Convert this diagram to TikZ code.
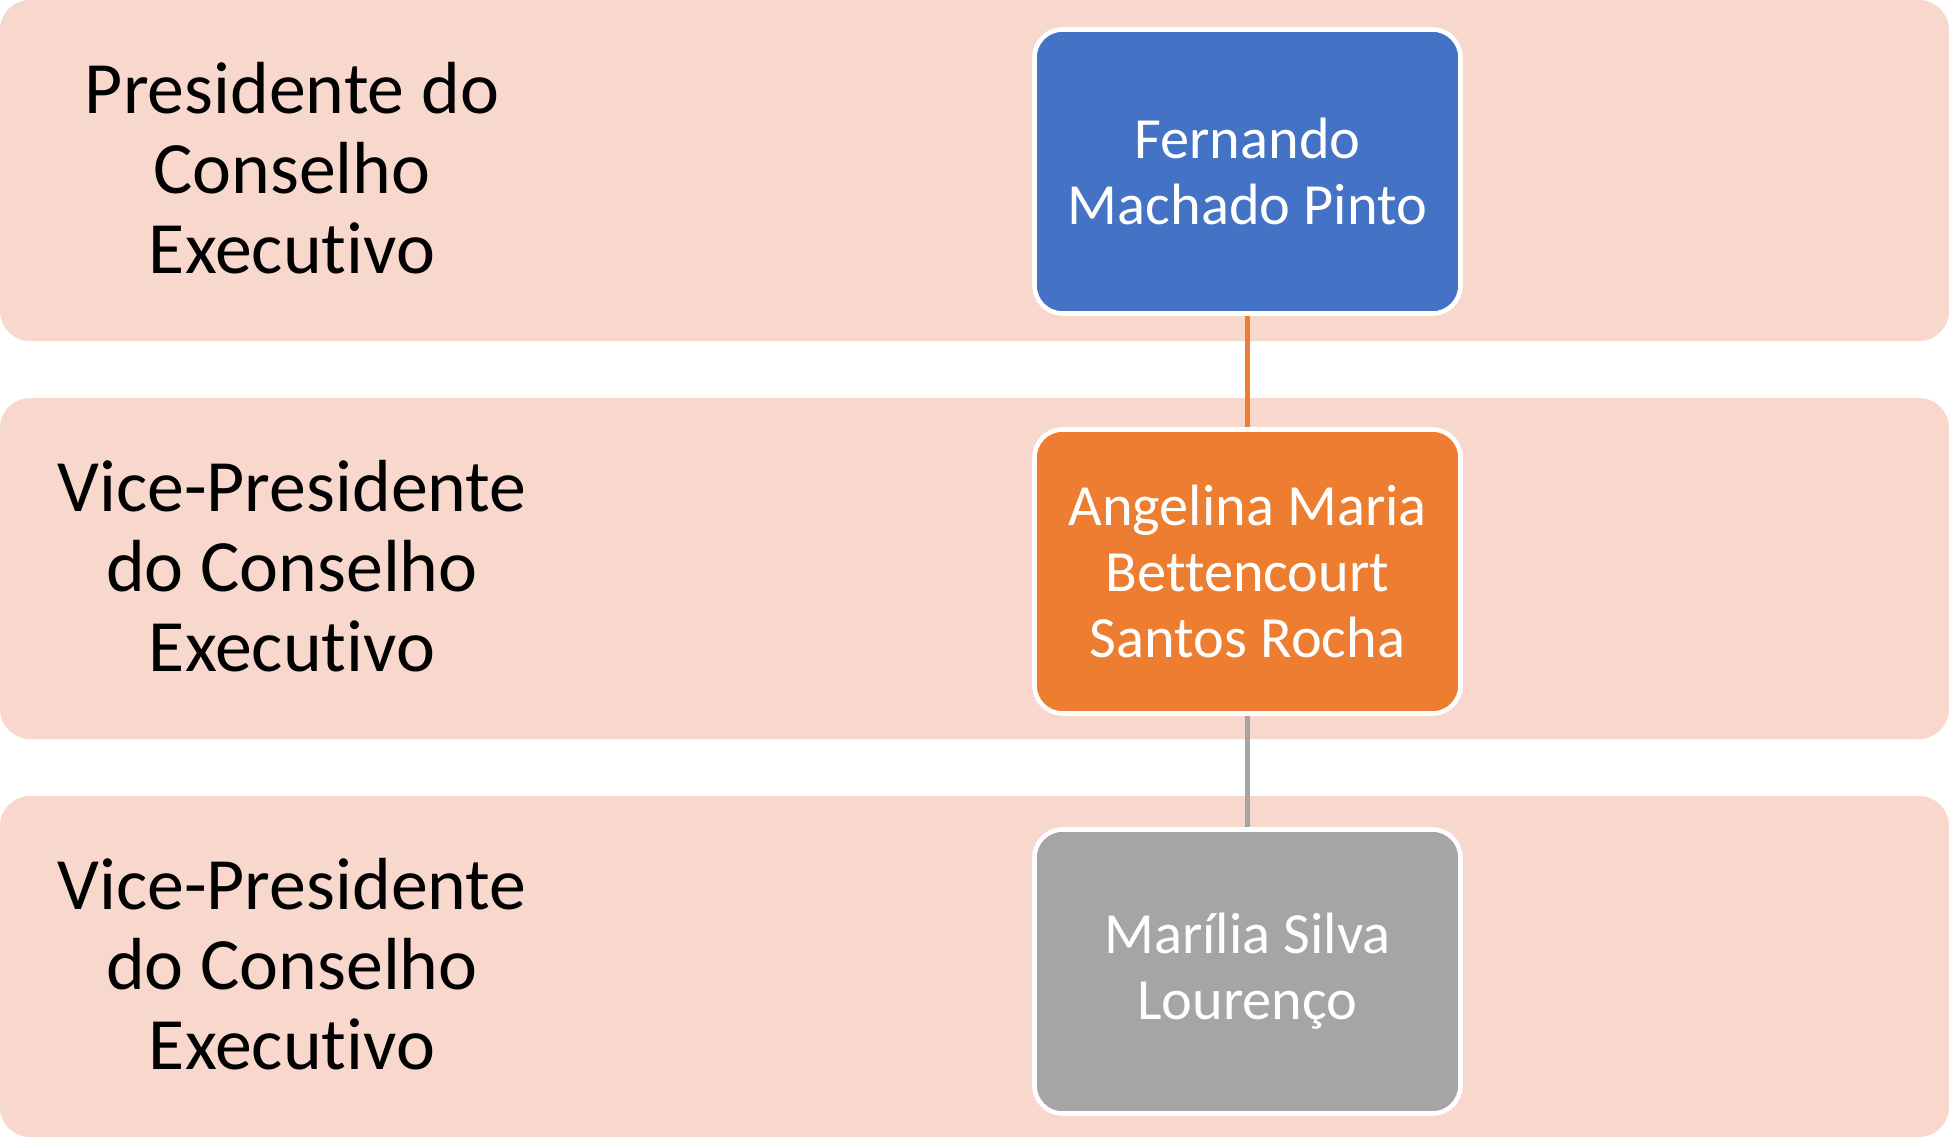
\documentclass[tikz,border=0pt]{standalone}
\usepackage{fontspec}
\setmainfont{Carlito}[Ligatures=NoCommon]
\usetikzlibrary{positioning}
\definecolor{bandfill}{HTML}{F8D7CD}
\definecolor{presblue}{HTML}{4472C4}
\definecolor{vporange}{HTML}{ED7D31}
\definecolor{vpgray}{HTML}{A5A5A5}

\begin{document}
\begin{tikzpicture}[node distance=4cm,on grid,
        band/.style={fill=bandfill,rounded corners=0.3cm,minimum width=19.49cm,minimum height=3.41cm,inner sep=0pt,outer sep=0pt},
        role/.style={align=center,font=\fontsize{21}{22.8}\selectfont},
        person/.style={draw=white,line width=1.3pt,rounded corners=0.28cm,minimum width=4.26cm,minimum height=2.84cm,align=center,text=white,font=\fontsize{16.6}{18.8}\selectfont}]
        \useasboundingbox (0,0) rectangle (19.49,-11.37);
        \node[band] (row1) at (9.745,-1.705) {};
        \node[band] (row2) at (9.745,-5.685) {};
        \node[band] (row3) at (9.745,-9.665) {};
        \node[role] (r1) at (2.92,-1.68) {Presidente do\\Conselho\\Executivo};
        \node[role] (r2) at (2.92,-5.66) {Vice-Presidente\\do Conselho\\Executivo};
        \node[role] (r3) at (2.92,-9.64) {Vice-Presidente\\do Conselho\\Executivo};
        \node[person,fill=presblue] (pres) at (12.475,-1.715) {Fernando\\Machado Pinto};
        \node[person,fill=vporange,below=of pres] (vpa) {Angelina Maria\\Bettencourt\\Santos Rocha};
        \node[person,fill=vpgray,below=of vpa] (vpb) {Marília Silva\\Lourenço};
        \path[line width=1.4pt]
                (pres) edge[draw=vporange] (vpa)
                (vpa) edge[draw=vpgray] (vpb);
    \end{tikzpicture}
\end{document}
